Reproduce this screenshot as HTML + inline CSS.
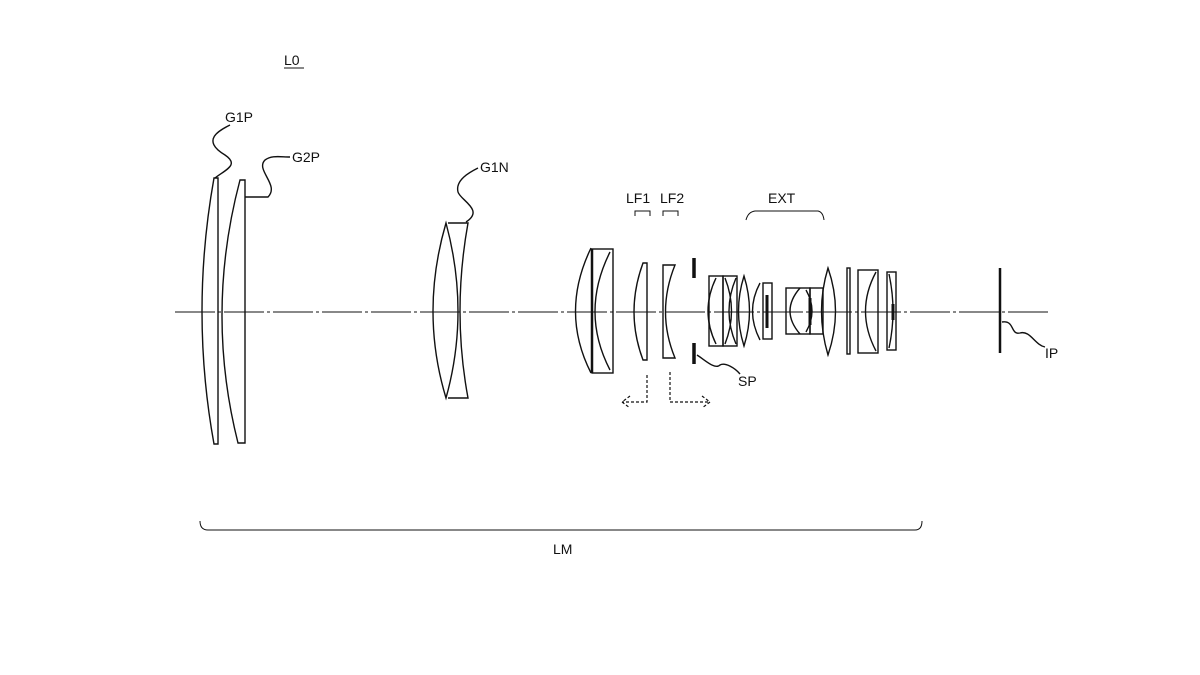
<!DOCTYPE html>
<html><head><style>html,body{margin:0;background:#fff}svg{display:block}text{font-family:"Liberation Sans",sans-serif;font-size:14px;fill:#111}</style></head>
<body>
<svg width="1200" height="675" viewBox="0 0 1200 675" fill="none" stroke="#111" stroke-width="1.4">
<line x1="175" y1="312" x2="1050" y2="312" stroke-width="1" stroke-dasharray="40 3 3 3"/>
<text x="284" y="65" stroke="none">L0</text><line x1="284" y1="68" x2="304" y2="68" stroke-width="1"/>
<!-- G1P -->
<path d="M214,178 Q190,312 214,444 L218,444 L218,178 Z"/>
<!-- G2P -->
<path d="M240,180 Q205,312 238,443 L245,443 L245,180 Z"/>
<path d="M215,178 C225,170 240,165 225,155 C200,140 220,130 230,125"/>
<text x="225" y="122" stroke="none">G1P</text>
<path d="M245,197 L268,197 C280,185 255,170 265,160 C272,155 280,157 290,157"/>
<text x="292" y="162" stroke="none">G2P</text>
<!-- G1N -->
<path d="M446,223 Q420,312 446,398 Q470,312 446,223 Z"/>
<path d="M448,223 L468,223 Q452,312 468,398 L448,398"/>
<path d="M466,222 C485,210 460,200 458,192 C455,180 470,172 478,168"/>
<text x="480" y="172" stroke="none">G1N</text>
<!-- doublet -->
<path d="M591,248 Q560,312 591,373"/>
<rect x="592" y="249" width="21" height="124"/>
<path d="M610,252 Q580,312 610,370"/>
<line x1="592" y1="249" x2="592" y2="373" stroke-width="2.5"/>
<!-- LF1 LF2 -->
<path d="M643,263 Q625,312 643,360 L647,360 L647,263 Z"/>
<path d="M663,265 L675,265 Q656,312 675,358 L663,358 Z"/>
<text x="626" y="203" stroke="none" font-size="13">LF1</text>
<text x="660" y="203" stroke="none" font-size="13">LF2</text>
<path d="M635,216 V211 H650 V216 M663,216 V211 H678 V216" stroke-width="1"/>
<!-- SP -->
<line x1="694" y1="258" x2="694" y2="278" stroke-width="3.5"/>
<line x1="694" y1="343" x2="694" y2="364" stroke-width="3.5"/>
<path d="M697,355 C705,360 715,370 720,365 C725,362 735,368 740,374"/>
<text x="738" y="386" stroke="none">SP</text>
<!-- arrows -->
<path d="M647,375 V402 H622 M630,396 L622,402 L630,408" stroke-dasharray="3 2" stroke-width="1.2"/>
<path d="M670,372 V402 H710 M702,396 L710,402 L702,408" stroke-dasharray="3 2" stroke-width="1.2"/>
<!-- rear group -->
<rect x="709" y="276" width="14" height="70"/>
<path d="M716,278 Q700,311 716,344"/>
<rect x="723" y="276" width="14" height="70"/>
<path d="M725,278 Q738,311 725,344 M736,278 Q722,311 736,344"/>
<path d="M744,276 Q733,311 744,346 Q755,311 744,276 Z"/>
<path d="M760,283 Q745,311 760,340"/>
<rect x="763" y="283" width="9" height="56"/>
<line x1="767" y1="295" x2="767" y2="328" stroke-width="3"/>
<rect x="786" y="288" width="24" height="46"/>
<path d="M800,288 Q780,311 800,334 M806,290 Q818,311 806,332"/>
<rect x="810" y="288" width="13" height="46"/>
<line x1="810" y1="298" x2="810" y2="325" stroke-width="3"/>
<path d="M828,268 Q815,311 828,355 Q843,311 828,268 Z"/>
<rect x="847" y="268" width="3" height="86"/>
<rect x="858" y="270" width="20" height="83"/>
<path d="M876,272 Q855,311 876,351"/>
<rect x="887" y="272" width="9" height="78"/>
<path d="M889,274 Q897,311 889,348"/>
<line x1="893" y1="304" x2="893" y2="320" stroke-width="3"/>
<text x="768" y="203" stroke="none" font-size="13">EXT</text>
<path d="M746,220 Q748,212 755,211 L818,211 Q823,212 824,220" stroke-width="1"/>
<!-- IP -->
<line x1="1000" y1="268" x2="1000" y2="353" stroke-width="2.5"/>
<path d="M1002,322 C1015,320 1010,335 1020,333 C1030,330 1035,345 1045,347"/>
<text x="1045" y="358" stroke="none">IP</text>
<!-- LM -->
<path d="M200,521 Q200,530 208,530 L915,530 Q922,530 922,521" stroke-width="1"/>
<text x="553" y="554" stroke="none" font-size="13">LM</text>
</svg>
</body></html>
